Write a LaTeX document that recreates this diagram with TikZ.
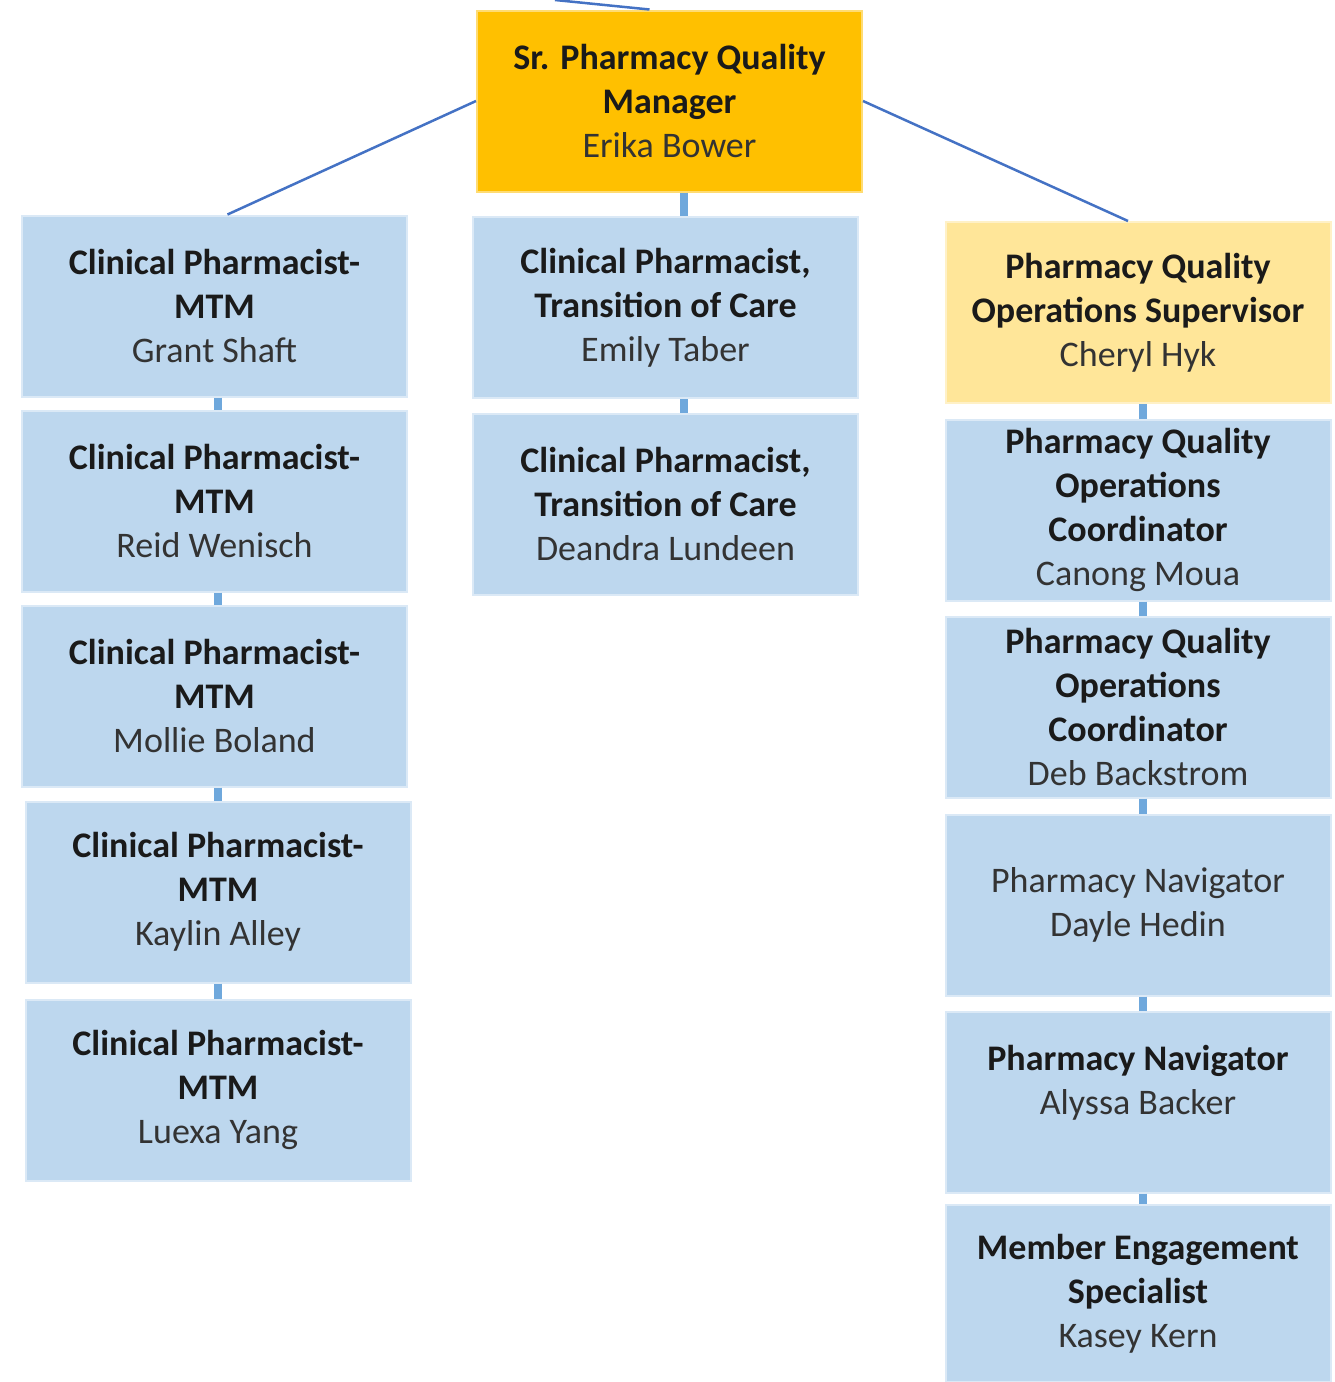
\documentclass[tikz,border=0pt]{standalone}
\usepackage{fontspec}
\setmainfont{Carlito}
\definecolor{boxblue}{HTML}{BDD7EE}
\definecolor{goldbox}{HTML}{FFC000}
\definecolor{lightgold}{HTML}{FFE699}
\definecolor{diagline}{HTML}{4472C4}
\definecolor{vline}{HTML}{6FA8DC}
\definecolor{txt}{HTML}{1A1A1A}
\definecolor{nametxt}{HTML}{333333}
\newcommand{\nm}[1]{{\mdseries\color{nametxt}#1}}
\tikzset{
  orgbox/.style={rectangle, fill=boxblue, draw=boxblue!55!white, line width=2pt,
    minimum width=385pt, minimum height=181pt, inner sep=0pt, align=center,
    font=\fontsize{36}{44}\selectfont\bfseries, text=txt},
  goldnode/.style={orgbox, fill=goldbox, draw=goldbox!55!white},
  supnode/.style={orgbox, fill=lightgold, draw=lightgold!55!white},
  diag/.style={draw=diagline, line width=2.5pt},
  vconn/.style={draw=vline, line width=8pt}
}
\begin{document}
\begin{tikzpicture}[x=1pt,y=-1pt]
\useasboundingbox (0,0) rectangle (1335,1382);
% top manager
\node[goldnode] (gm) at (669.5,101) {Sr. Pharmacy Quality\\Manager\\\nm{Erika Bower}};
% left column
\node[orgbox] (l1) at (214.5,306) {Clinical Pharmacist-\\MTM\\\nm{Grant Shaft}};
\node[orgbox] (l2) at (214.5,501) {Clinical Pharmacist-\\MTM\\\nm{Reid Wenisch}};
\node[orgbox] (l3) at (214.5,696) {Clinical Pharmacist-\\MTM\\\nm{Mollie Boland}};
\node[orgbox] (l4) at (218,892) {Clinical Pharmacist-\\MTM\\\nm{Kaylin Alley}};
\node[orgbox] (l5) at (218,1090) {Clinical Pharmacist-\\MTM\\\nm{Luexa Yang}};
% middle column
\node[orgbox] (m1) at (665.5,307.5) {Clinical Pharmacist,\\Transition of Care\\\nm{Emily Taber}};
\node[orgbox] (m2) at (665.5,504) {Clinical Pharmacist,\\Transition of Care\\\nm{Deandra Lundeen}};
% right column
\node[supnode] (s) at (1138,312.5) {Pharmacy Quality\\Operations Supervisor\\\nm{Cheryl Hyk}};
\node[orgbox] (r1) at (1138,510) {Pharmacy Quality\\Operations\\Coordinator\\\nm{Canong Moua}};
\node[orgbox] (r2) at (1138,707) {Pharmacy Quality\\Operations\\Coordinator\\\nm{Deb Backstrom}};
\node[orgbox] (r3) at (1138,905) {\nm{Pharmacy Navigator}\\\nm{Dayle Hedin}};
\node[orgbox] (r4) at (1138,1102) {Pharmacy Navigator\\\nm{Alyssa Backer}\\~};
\node[orgbox, minimum height=177pt] (r5) at (1138,1293.5) {Member Engagement\\Specialist\\\nm{Kasey Kern}};
% connectors
\coordinate (up) at (555,0);
\draw[diag] (up) -- ([xshift=-20pt]gm.north);
\draw[diag] (gm.west) -- ([xshift=13pt]l1.north);
\draw[diag] (gm.east) -- ([xshift=-10pt]s.north);
\draw[vconn] ([xshift=14.5pt]gm.south) -- ([xshift=18.5pt]m1.north);
\draw[vconn] ([xshift=18.5pt]m1.south) -- ([xshift=18.5pt]m2.north);
\draw[vconn] (l1.south -| l4.north) -- (l2.north -| l4.north);
\draw[vconn] (l2.south -| l4.north) -- (l3.north -| l4.north);
\draw[vconn] (l3.south -| l4.north) -- (l4.north);
\draw[vconn] (l4.south) -- (l5.north);
\draw[vconn] ([xshift=5pt]s.south) -- ([xshift=5pt]r1.north);
\draw[vconn] ([xshift=5pt]r1.south) -- ([xshift=5pt]r2.north);
\draw[vconn] ([xshift=5pt]r2.south) -- ([xshift=5pt]r3.north);
\draw[vconn] ([xshift=5pt]r3.south) -- ([xshift=5pt]r4.north);
\draw[vconn] ([xshift=5pt]r4.south) -- ([xshift=5pt]r5.north);
\end{tikzpicture}
\end{document}
